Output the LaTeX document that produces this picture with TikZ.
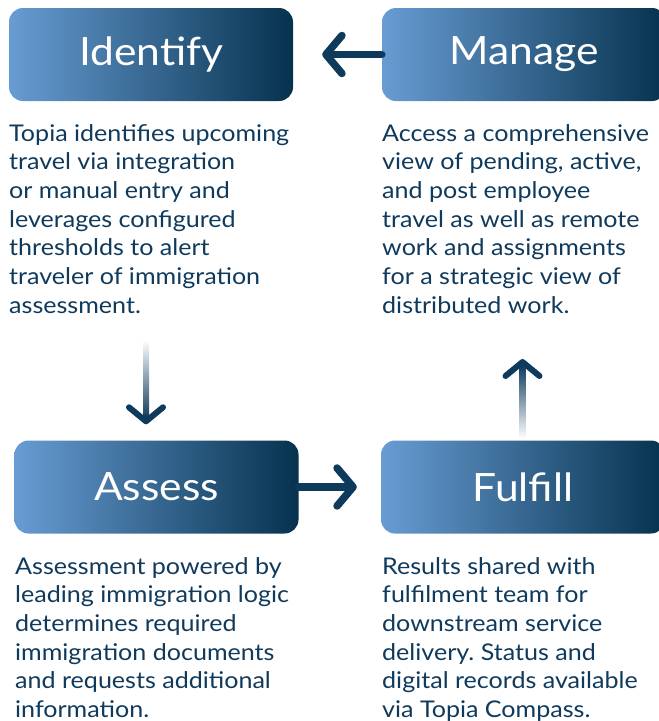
\documentclass[tikz,border=0pt]{standalone}
\usepackage{fontspec}
\setmainfont[FakeStretch=1.09]{Lato}
\frenchspacing
\usetikzlibrary{arrows.meta, positioning, calc}
\definecolor{boxlight}{RGB}{104,156,211}
\definecolor{boxdark}{RGB}{6,50,78}
\definecolor{navy}{RGB}{14,58,92}
\definecolor{txtblue}{RGB}{16,58,92}
\tikzset{
  stage/.style = {rounded corners=14pt, left color=boxlight, right color=boxdark,
                  minimum width=284pt, minimum height=93pt, inner sep=0pt,
                  text=white, font=\fontsize{39}{40}\selectfont},
  desc/.style  = {anchor=north west, align=left, inner sep=0pt, text=txtblue,
                  font=\fontsize{23}{28.7}\selectfont},
  flow/.style  = {navy, line width=7.5pt, line cap=round,
                  -{Straight Barb[round, length=16pt, width=38pt, line width=7.5pt]}},
  thinflow/.style = {flow, line width=6pt,
                  -{Straight Barb[round, length=14pt, width=34pt, line width=6pt]}}
}
\begin{document}
\begin{tikzpicture}[x=1pt, y=-1pt]
    \useasboundingbox (0,0) rectangle (659,721);
    % The stages
    \node[stage] (identify) at (151,54.5) {Identify};
    \node[stage] (manage)   at (524,54.5) {Manage};
    \node[stage] (assess)   at (156.5,487) {Assess};
    \node[stage] (fulfill)  at (523,487) {Fulfill};

    % The descriptions
    \node[desc] (identify_txt) at (9,124)
        {Topia identifies upcoming\\
         travel via integration\\
         or manual entry and\\
         leverages configured\\
         thresholds to alert\\
         traveler of immigration\\
         assessment.};
    \node[desc] (manage_txt) at (382,124)
        {Access a comprehensive\\
         view of pending, active,\\
         and post employee\\
         travel as well as remote\\
         work and assignments\\
         for a strategic view of\\
         distributed work.};
    \node[desc] (assess_txt) at (15,557)
        {Assessment powered by\\
         leading immigration logic\\
         determines required\\
         immigration documents\\
         and requests additional\\
         information.};
    \node[desc] (fulfill_txt) at (382,557)
        {Results shared with\\
         fulfilment team for\\
         downstream service\\
         delivery. Status and\\
         digital records available\\
         via Topia Compass.};

    % The transitions
    \draw[flow] (manage.west) -- ([xshift=29pt]identify.east);
    \draw[flow] (assess.east) -- ([xshift=-24pt]fulfill.west);

    \coordinate (down_top) at (146,340);
    \coordinate (down_tip) at ([yshift=16pt]assess.north -| down_top);
    \shade[top color=white, bottom color=navy]
        ($(down_top)+(-3,0)$) rectangle ($(down_tip)+(3,-6)$);
    \draw[thinflow] ($(down_tip)+(0,-4)$) -- (down_tip);

    \coordinate (up_tip) at (522.5,359);
    \coordinate (up_foot) at (fulfill.north -| up_tip);
    \shade[top color=navy, bottom color=white]
        ($(up_tip)+(-3,6)$) rectangle ($(up_foot)+(3,-2)$);
    \draw[thinflow] ($(up_tip)+(0,4)$) -- (up_tip);
\end{tikzpicture}
\end{document}
